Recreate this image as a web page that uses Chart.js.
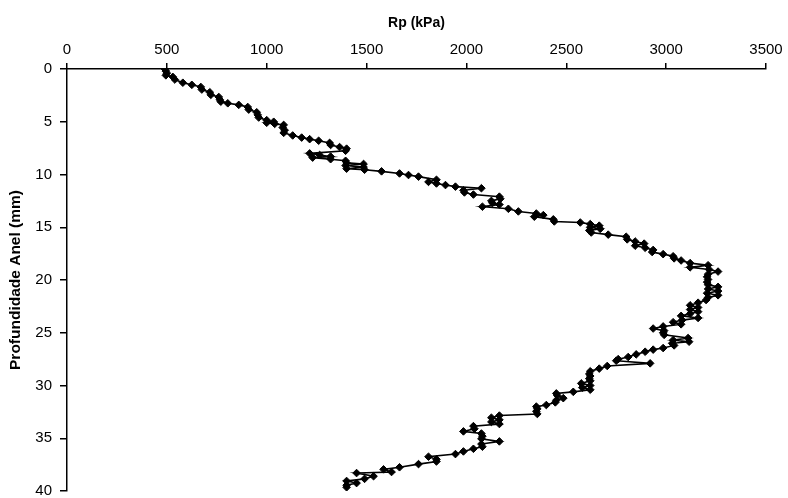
<!DOCTYPE html>
<html>
<head>
<meta charset="utf-8">
<script src="https://cdn.jsdelivr.net/npm/chart.js@4.4.0/dist/chart.umd.min.js"></script>
<style>
  html, body { margin: 0; padding: 0; background: #fff; }
  #wrap { width: 788px; height: 498px; }
</style>
</head>
<body>
<div id="wrap"><canvas id="rp-chart"></canvas></div>
<script>
// resistencia a penetracao ao longo da profundidade do anel
var depth = [
  0.0, 0.2, 0.4, 0.6, 0.75, 1.0, 1.3, 1.5, 1.7, 1.95,
  2.2, 2.45, 2.65, 2.9, 3.1, 3.25, 3.4, 3.6, 3.85, 4.1,
  4.35, 4.6, 4.85, 5.0, 5.1, 5.2, 5.3, 5.55, 5.8, 6.05,
  6.3, 6.5, 6.65, 6.8, 7.0, 7.2, 7.4, 7.55, 7.75, 8.0,
  8.15, 8.3, 8.4, 8.55, 8.7, 8.9, 9.0, 9.15, 9.3, 9.45,
  9.55, 9.7, 9.9, 10.05, 10.2, 10.5, 10.7, 10.85, 11.0, 11.15,
  11.3, 11.5, 11.7, 11.9, 12.1, 12.3, 12.5, 12.7, 12.85, 13.05,
  13.25, 13.5, 13.7, 13.85, 14.0, 14.25, 14.45, 14.55, 14.7, 14.85,
  15.0, 15.15, 15.3, 15.5, 15.7, 15.9, 16.15, 16.35, 16.55, 16.75,
  16.95, 17.15, 17.35, 17.55, 17.75, 17.95, 18.15, 18.4, 18.6, 18.8,
  19.0, 19.2, 19.45, 19.7, 19.95, 20.2, 20.45, 20.65, 20.85, 21.05,
  21.25, 21.45, 21.65, 21.9, 22.15, 22.4, 22.6, 22.8, 23.0, 23.2,
  23.4, 23.6, 23.8, 24.0, 24.2, 24.4, 24.6, 24.8, 25.0, 25.2,
  25.5, 25.7, 25.85, 26.0, 26.2, 26.45, 26.6, 26.8, 27.05, 27.3,
  27.5, 27.65, 27.9, 28.15, 28.4, 28.65, 28.9, 29.1, 29.35, 29.55,
  29.8, 30.0, 30.2, 30.4, 30.6, 30.75, 30.95, 31.2, 31.4, 31.6,
  31.85, 32.0, 32.2, 32.45, 32.7, 32.85, 33.05, 33.25, 33.45, 33.65,
  33.85, 34.1, 34.35, 34.55, 34.8, 35.05, 35.3, 35.55, 35.8, 36.0,
  36.25, 36.5, 36.75, 37.0, 37.2, 37.45, 37.75, 37.95, 38.2, 38.3,
  38.6, 38.85, 39.05, 39.25, 39.45, 39.65
];
var rp = [
  490, 495, 500, 495, 530, 540, 580, 625, 670, 675,
  715, 720, 760, 765, 770, 805, 860, 905, 910, 950,
  955, 960, 1000, 1035, 1000, 1040, 1085, 1080, 1090, 1085,
  1130, 1175, 1215, 1260, 1315, 1320, 1365, 1400, 1395, 1215,
  1265, 1320, 1230, 1320, 1395, 1400, 1485, 1395, 1485, 1400,
  1490, 1575, 1665, 1710, 1760, 1850, 1810, 1850, 1895, 1945,
  2075, 1985, 1990, 2035, 2165, 2170, 2125, 2130, 2165, 2080,
  2210, 2260, 2350, 2385, 2340, 2435, 2440, 2570, 2620, 2665,
  2620, 2670, 2615, 2625, 2710, 2800, 2805, 2845, 2890, 2845,
  2895, 2935, 2930, 2985, 3035, 3040, 3075, 3120, 3210, 3120,
  3215, 3260, 3210, 3205, 3210, 3205, 3210, 3260, 3210, 3260,
  3205, 3260, 3210, 3200, 3160, 3120, 3160, 3120, 3160, 3120,
  3075, 3160, 3080, 3035, 3075, 2985, 2935, 2990, 2985, 2990,
  3110, 3035, 3115, 3030, 3040, 2985, 2935, 2895, 2850, 2810,
  2760, 2750, 2920, 2705, 2665, 2620, 2615, 2620, 2615, 2620,
  2575, 2620, 2580, 2620, 2535, 2450, 2455, 2485, 2450, 2445,
  2400, 2350, 2355, 2350, 2355, 2165, 2125, 2165, 2125, 2165,
  2035, 2040, 1985, 2075, 2080, 2075, 2165, 2075, 2080, 2035,
  1985, 1945, 1810, 1850, 1850, 1760, 1665, 1585, 1625, 1450,
  1535, 1490, 1400, 1450, 1400, 1400
];
var xTicks = [0, 500, 1000, 1500, 2000, 2500, 3000, 3500];
var yTicks = [0, 5, 10, 15, 20, 25, 30, 35, 40];

var points = [];
for (var i = 0; i < depth.length; i++) {
  points[points.length] = { x: rp[i], y: depth[i] };
}

var fontFamily = 'Liberation Sans, Arial, sans-serif';
var tickFont = { family: fontFamily, size: 15 };

new Chart(document.getElementById('rp-chart'), {
  type: 'scatter',
  data: {
    datasets: [{
      label: 'Rp',
      data: points,
      showLine: true,
      borderColor: '#000',
      borderWidth: 1.6,
      tension: 0,
      pointStyle: 'rectRot',
      pointRadius: 3.8,
      pointBackgroundColor: '#000',
      pointBorderColor: '#000',
      pointBorderWidth: 1
    }]
  },
  options: {
    responsive: true,
    maintainAspectRatio: false,
    animation: false,
    layout: { padding: { left: 0, right: 22, top: 0, bottom: 7 } },
    plugins: {
      legend: { display: false },
      tooltip: { enabled: false }
    },
    scales: {
      x: {
        type: 'linear',
        position: 'top',
        min: 0,
        max: 3500,
        afterBuildTicks: function(scale) {
          scale.ticks = xTicks.map(function(v) { return { value: v }; });
        },
        afterFit: function(scale) {
          scale.height = 69;
          scale.paddingLeft = 0;
          scale.paddingRight = 0;
        },
        grid: { drawOnChartArea: false, drawTicks: true, tickLength: 6, color: '#000', lineWidth: 1.5 },
        border: { display: true, color: '#000', width: 1.5 },
        ticks: {
          color: '#000',
          font: tickFont,
          padding: 4,
          maxRotation: 0,
          callback: function(v) { return String(v); }
        },
        title: {
          display: true,
          text: 'Rp (kPa)',
          color: '#000',
          font: { family: fontFamily, size: 14, weight: 'bold' },
          padding: { top: 15, bottom: 0 }
        }
      },
      y: {
        type: 'linear',
        reverse: true,
        min: 0,
        max: 40,
        afterBuildTicks: function(scale) {
          scale.ticks = yTicks.map(function(v) { return { value: v }; });
        },
        afterFit: function(scale) {
          scale.width = 67;
          scale.paddingTop = 0;
          scale.paddingBottom = 0;
        },
        grid: { drawOnChartArea: false, drawTicks: true, tickLength: 7, color: '#000', lineWidth: 1.5 },
        border: { display: true, color: '#000', width: 1.5 },
        ticks: { color: '#000', font: tickFont, padding: 8 },
        title: {
          display: true,
          text: 'Profundidade Anel (mm)',
          color: '#000',
          font: { family: fontFamily, size: 15.5, weight: 'bold' },
          padding: { top: 6, bottom: 0 }
        }
      }
    }
  }
});
</script>
</body>
</html>
